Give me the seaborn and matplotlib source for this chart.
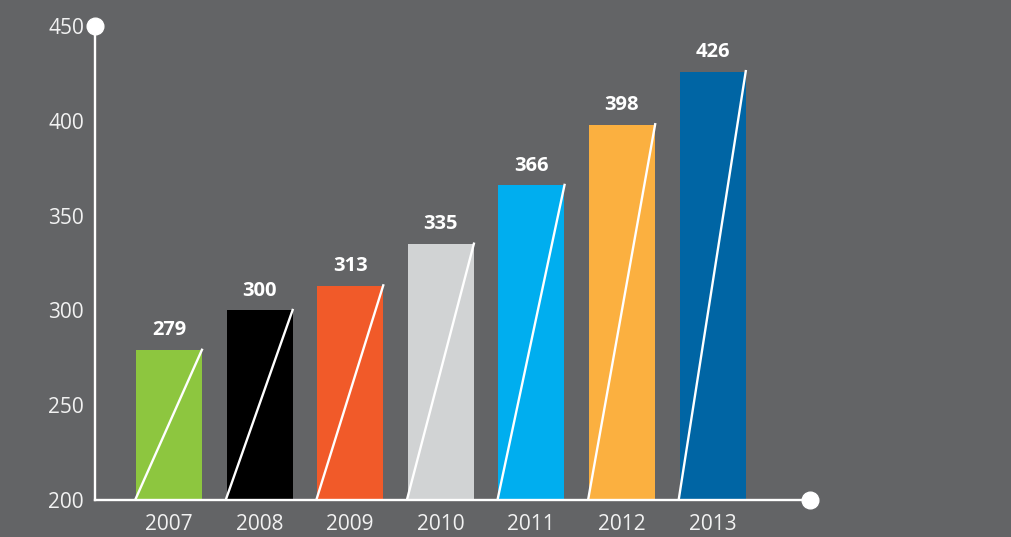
import matplotlib
matplotlib.use("Agg")
import matplotlib.pyplot as plt
import seaborn as sns
import pandas as pd

years = ["2007", "2008", "2009", "2010", "2011", "2012", "2013"]
values = [279, 300, 313, 335, 366, 398, 426]
colors = ["#8DC63F", "#000000", "#F15A29", "#D1D3D4", "#00AEEF", "#FBB040", "#0065A4"]
yticks = [200, 250, 300, 350, 400, 450]

bg = "#636466"
txt = "#F2F2F2"

sns.set_theme(style="white")
plt.rcParams["font.family"] = ["Open Sans", "DejaVu Sans"]

fig = plt.figure(figsize=(10.12, 5.37), dpi=100, facecolor=bg)
ax = fig.add_axes([95/1012, 37/537, (810-95)/1012, (500-26)/537])
ax.set_facecolor(bg)

df = pd.DataFrame({"year": years, "value": values})
sns.barplot(data=df, x="year", y="value", hue="year", palette=colors,
            dodge=False, legend=False, width=0.728, ax=ax, saturation=1)

ax.set_ylim(200, 450)
ax.set_xlim(-0.817, 7.076)
ax.set_yticks(yticks)
ax.set_xlabel("")
ax.set_ylabel("")

for p, v in zip(ax.patches, values):
    x0 = p.get_x()
    w = p.get_width()
    p.set_edgecolor("none")
    ax.plot([x0 - 0.01, x0 + w + 0.005], [200, v + 0.8], color="white", lw=1.7,
            solid_capstyle="butt", zorder=3)
    ax.annotate(str(v), (x0 + w / 2, v), xytext=(0, 7), textcoords="offset points",
                ha="center", va="bottom", color="white", fontsize=14.5, fontweight="bold")

for s in ["top", "right"]:
    ax.spines[s].set_visible(False)
for s in ["left", "bottom"]:
    ax.spines[s].set_color("white")
    ax.spines[s].set_linewidth(1.7)

ax.tick_params(axis="both", length=0, colors=txt, labelsize=15)
ax.tick_params(axis="y", pad=8)
ax.tick_params(axis="x", pad=10)

ax.plot([0], [1], "o", color="white", ms=12, transform=ax.transAxes, clip_on=False, zorder=5)
ax.plot([1], [0], "o", color="white", ms=12, transform=ax.transAxes, clip_on=False, zorder=5)

fig.savefig("out.png", dpi=100, facecolor=bg)
